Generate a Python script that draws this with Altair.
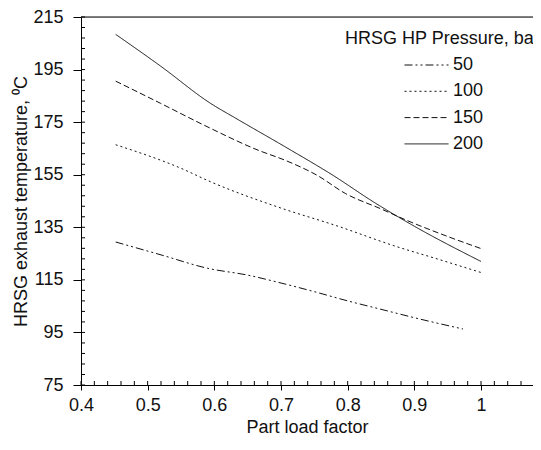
import altair as alt
import pandas as pd

# ---- data ----
x50 = [0.452, 0.52, 0.59, 0.65, 0.70, 0.75, 0.80, 0.85, 0.90, 0.973]
y50 = [129.4, 124.5, 119.4, 116.8, 113.8, 110.5, 107.0, 103.8, 100.6, 96.3]

x100 = [0.452, 0.554, 0.59, 0.70, 0.782, 0.874, 0.93, 1.0]
y100 = [166.4, 157.0, 152.8, 142.3, 135.7, 127.6, 123.3, 117.8]

x150 = [0.452, 0.519, 0.589, 0.664, 0.709, 0.754, 0.797, 0.85, 0.889, 0.95, 1.0]
y150 = [190.6, 182.2, 173.3, 164.5, 160.2, 154.8, 147.8, 142.0, 137.6, 131.5, 126.9]

x200 = [0.452, 0.52, 0.594, 0.634, 0.709, 0.779, 0.839, 0.90, 1.0]
y200 = [208.4, 196.2, 182.2, 176.2, 165.2, 154.6, 144.6, 135.4, 122.0]

series = ["50", "100", "150", "200"]
dashes = [[8, 3, 2, 3, 2, 3], [2, 3], [6, 3], [1, 0]]

x_ticks = [0.4, 0.5, 0.6, 0.7, 0.8, 0.9, 1.0]
y_ticks = [75, 95, 115, 135, 155, 175, 195, 215]
x_minor = [round(0.4 + 0.02 * i, 2) for i in range(35)]
y_minor = [75 + 4 * i for i in range(36)]

legend_title = "HRSG HP Pressure, bar"
x_title = "Part load factor"
y_title = "HRSG exhaust temperature, \u2070C"

W, H = 452, 368
XMAX = 0.4 + W / 666.7
FONT = "Arial"

rows = []
for name, xs, ys in [("50", x50, y50), ("100", x100, y100), ("150", x150, y150), ("200", x200, y200)]:
    for a, b in zip(xs, ys):
        rows.append({"P": name, "x": a, "y": b})
df = pd.DataFrame(rows)

xscale = alt.Scale(domain=[0.4, XMAX], nice=False, zero=False)
yscale = alt.Scale(domain=[75, 215], nice=False, zero=False)

lines = alt.Chart(df).mark_line(strokeWidth=1, color="#111", interpolate="monotone").encode(
    x=alt.X("x:Q", scale=xscale,
            axis=alt.Axis(values=x_ticks, format="~g", title=x_title, grid=False,
                          tickSize=5, tickColor="black", domainColor="black",
                          labelFlush=False,
                          labelFontSize=18, labelFont=FONT, labelColor="#111",
                          labelPadding=6, titleFontSize=18, titleFont=FONT,
                          titleFontWeight="normal", titleColor="#111", titlePadding=4)),
    y=alt.Y("y:Q", scale=yscale,
            axis=alt.Axis(values=y_ticks, title=y_title, grid=False,
                          tickSize=8, tickColor="black", domainColor="black",
                          labelFontSize=18, labelFont=FONT, labelColor="#111",
                          labelPadding=10, titleFontSize=18, titleFont=FONT,
                          titleFontWeight="normal", titleColor="#111", titlePadding=2)),
    strokeDash=alt.StrokeDash("P:N", scale=alt.Scale(domain=series, range=dashes),
                              legend=alt.Legend(title=None, orient="none", legendX=323, legendY=35,
                                                symbolType="stroke", symbolSize=1936,
                                                symbolStrokeColor="#111", symbolStrokeWidth=1,
                                                clipHeight=26, rowPadding=0.3,
                                                labelFontSize=18, labelFont=FONT,
                                                labelColor="#111", labelOffset=4)),
)

top_border = alt.Chart(pd.DataFrame({"a": [0]})).mark_rule(color="black").encode(
    y=alt.value(0), x=alt.value(0), x2=alt.value(W))

xminor = alt.Chart(pd.DataFrame({"x": x_minor})).mark_rule(color="black").encode(
    x=alt.X("x:Q", scale=xscale), y=alt.value(H), y2=alt.value(H - 4))

yminor = alt.Chart(pd.DataFrame({"y": y_minor})).mark_rule(color="black").encode(
    y=alt.Y("y:Q", scale=yscale), x=alt.value(0), x2=alt.value(4))

ltitle = alt.Chart(pd.DataFrame({"t": [legend_title]})).mark_text(
    clip=True, align="left", baseline="middle", fontSize=18, font=FONT, color="#111"
).encode(x=alt.value(264), y=alt.value(22), text="t:N")

chart = alt.layer(lines, xminor, yminor, top_border, ltitle).properties(
    width=W, height=H,
    autosize=alt.AutoSizeParams(type="none"),
    padding={"left": 73, "top": 9, "right": 0, "bottom": 50},
).configure_view(stroke=None).configure(background="white")

chart.save("out.html", embed_options={"renderer": "svg", "actions": False})
